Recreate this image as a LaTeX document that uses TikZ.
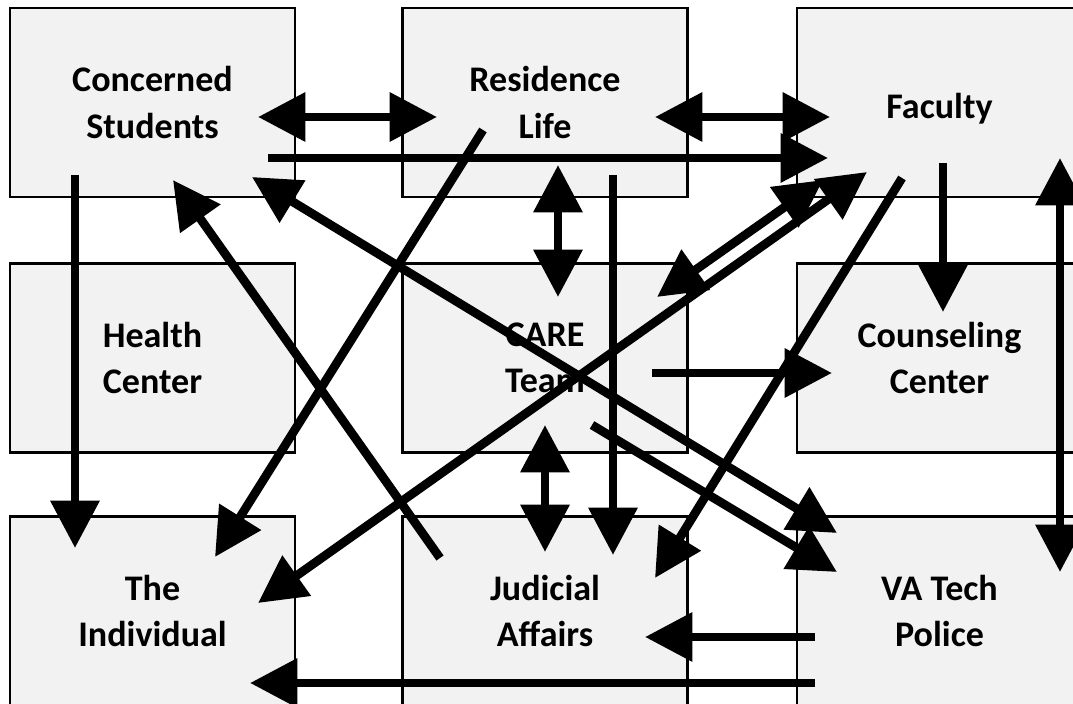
\documentclass[tikz,border=0pt]{standalone}
\usepackage{fontspec}
\setmainfont{Carlito}
\usetikzlibrary{arrows.meta}
\definecolor{boxgray}{HTML}{F2F2F2}

\begin{document}
\begin{tikzpicture}[x=0.2mm, y=-0.2mm,
  box/.style={draw=black, line width=1.4pt, fill=boxgray, minimum width=57mm,
    minimum height=37.8mm, inner sep=0pt, align=center,
    execute at begin node={\rule{0pt}{22pt}},
    font=\bfseries\fontsize{20.5}{26.5}\selectfont},
  arr/.style={line width=5pt, -{Triangle[length=27pt,width=27pt]}},
  darr/.style={line width=5pt, {Triangle[length=27pt,width=27pt]}-{Triangle[length=27pt,width=27pt]}}]
  \useasboundingbox (0,0) rectangle (1073,704);
  \clip (0,0) rectangle (1073,704);
  % Boxes, three rows of three
  \node[box] (cs)   at (152.5,102.5) {Concerned\\Students};
  \node[box] (rl)   at (545,102.5)   {Residence\\Life};
  \node[box] (fac)  at (939.5,102.5) {Faculty};
  \node[box] (hc)   at (152.5,358)   {Health\\Center};
  \node[box] (care) at (545,358)     {CARE\\Team};
  \node[box] (cc)   at (939.5,358)   {Counseling\\Center};
  \node[box] (ti)   at (152.5,611)   {The\\Individual};
  \node[box] (ja)   at (545,611)     {Judicial\\Affairs};
  \node[box] (vap)  at (939.5,611)   {VA Tech\\Police};
  % Arrow ends
  \coordinate (csRl)   at (258,117);  \coordinate (rlCs)   at (437,117);
  \coordinate (rlFac)  at (655,117);  \coordinate (facRl)  at (830,117);
  \coordinate (csFac)  at (268,158);  \coordinate (facCs)  at (828,158);
  \coordinate (careFac) at (657,297); \coordinate (facCare) at (823,180);
  \coordinate (tiFac)  at (258,603);  \coordinate (facTi)  at (867,172);
  \coordinate (facCc)  at (943,163);  \coordinate (ccFac)  at (943,312);
  \coordinate (facJa)  at (902,178);  \coordinate (jaFac)  at (655,578);
  \coordinate (careCc) at (652,373);  \coordinate (ccCare) at (832,373);
  \coordinate (rlCare) at (558,165);  \coordinate (careRl) at (558,297);
  \coordinate (rlJa)   at (613,175);  \coordinate (jaRl)   at (613,555);
  \coordinate (careJa) at (545,425);  \coordinate (jaCare) at (545,552);
  \coordinate (rlTi)   at (483,130);  \coordinate (tiRl)   at (215,557);
  \coordinate (csTi)   at (75,175);   \coordinate (tiCs)   at (75,548);
  \coordinate (jaCs)   at (440,558);  \coordinate (csJa)   at (173,180);
  \coordinate (csVa)   at (252,177);  \coordinate (vaCs)   at (837,533);
  \coordinate (careVa) at (592,425);  \coordinate (vaCare) at (837,572);
  \coordinate (facVa)  at (1060,158); \coordinate (vaFac)  at (1060,572);
  \coordinate (vaJa)   at (815,637);  \coordinate (jaVa)   at (645,637);
  \coordinate (vaTi)   at (815,683);  \coordinate (tiVa)   at (250,683);
  % Top row
  \draw[darr] (csRl) -- (rlCs);
  \draw[darr] (rlFac) -- (facRl);
  \draw[arr] (csFac) -- (facCs);
  % Diagonals to Faculty
  \draw[darr] (careFac) -- (facCare);
  \draw[darr] (tiFac) -- (facTi);
  \draw[arr] (facJa) -- (jaFac);
  \draw[arr] (facCc) -- (ccFac);
  % Middle column
  \draw[darr] (rlCare) -- (careRl);
  \draw[arr] (rlJa) -- (jaRl);
  \draw[darr] (careJa) -- (jaCare);
  \draw[arr] (careCc) -- (ccCare);
  % Left side
  \draw[arr] (rlTi) -- (tiRl);
  \draw[arr] (csTi) -- (tiCs);
  \draw[arr] (jaCs) -- (csJa);
  % Police
  \draw[darr] (csVa) -- (vaCs);
  \draw[arr] (careVa) -- (vaCare);
  \draw[darr] (facVa) -- (vaFac);
  \draw[arr] (vaJa) -- (jaVa);
  \draw[arr] (vaTi) -- (tiVa);
\end{tikzpicture}
\end{document}
